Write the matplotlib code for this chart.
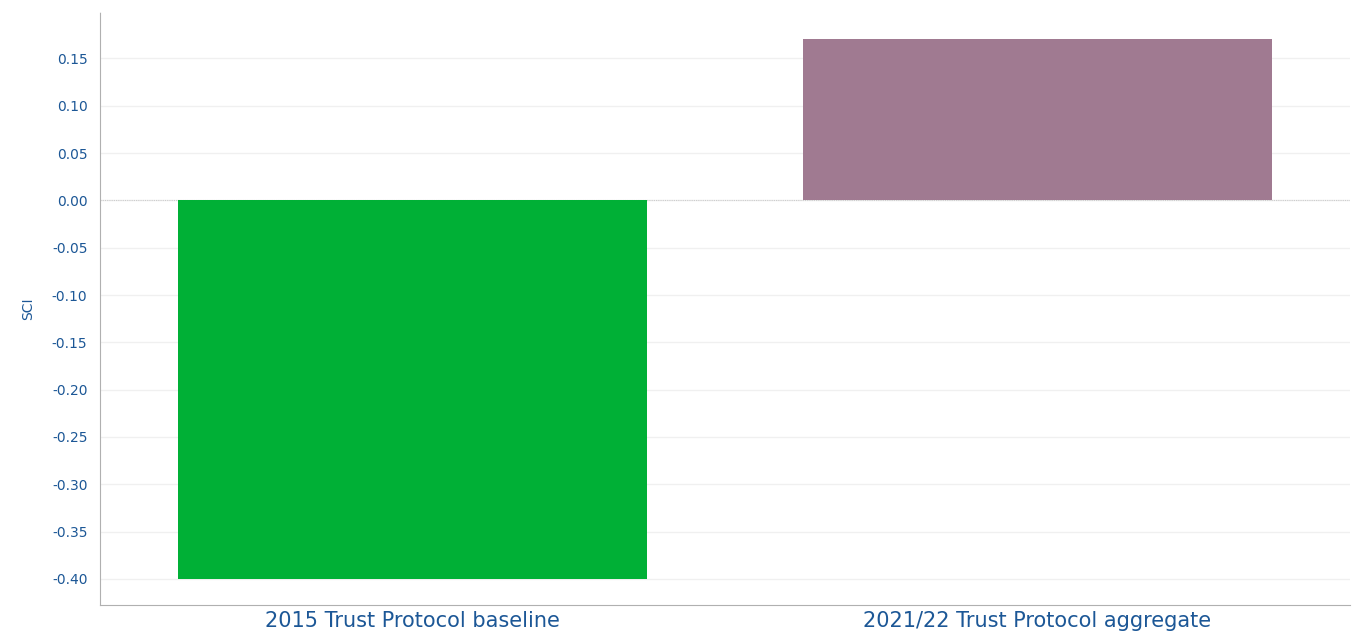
import matplotlib
matplotlib.use("Agg")
import matplotlib.pyplot as plt

categories = ["2015 Trust Protocol baseline", "2021/22 Trust Protocol aggregate"]
sci_values = [-0.40, 0.17]
bar_colors = ["#00b036", "#a07a91"]
y_ticks = [-0.40, -0.35, -0.30, -0.25, -0.20, -0.15, -0.10, -0.05, 0.00, 0.05, 0.10, 0.15]

text_color = "#1c5796"
plt.rcParams["font.family"] = ["DejaVu Sans"]

fig = plt.figure(figsize=(13.65, 6.33), dpi=100)
ax = fig.add_axes([100 / 1365, 28 / 633, 1250 / 1365, 593 / 633])

x = range(len(categories))
ax.bar(x, sci_values, width=0.75, color=bar_colors, zorder=3)

ax.set_xlim(-0.5, 1.5)
ax.set_ylim(-0.4275, 0.199)
ax.set_yticks(y_ticks)
ax.set_yticklabels([f"{v:.2f}" for v in y_ticks], fontsize=10, color=text_color)
ax.set_xticks(list(x))
ax.set_xticklabels(categories, fontsize=15, color=text_color)
ax.tick_params(axis="x", length=0, pad=4)
ax.tick_params(axis="y", length=0, pad=9)

ax.grid(axis="y", color="#f0f0f0", linewidth=1, zorder=0)
ax.axhline(0, color="#cccccc", linewidth=0.8, linestyle=(0, (1, 1)), zorder=2)

for side in ["top", "right"]:
    ax.spines[side].set_visible(False)
for side in ["left", "bottom"]:
    ax.spines[side].set_color("#b0b0b0")
    ax.spines[side].set_linestyle((0, (1, 1)))
    ax.spines[side].set_linewidth(0.8)

ax.set_ylabel("SCI", fontsize=10, color=text_color, labelpad=12)

fig.savefig("out.png", dpi=100)
